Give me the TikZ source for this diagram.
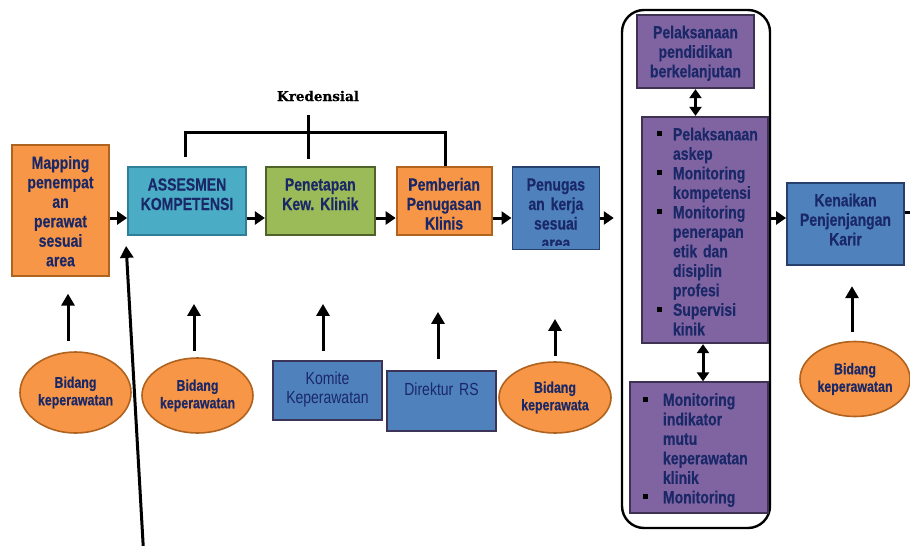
\documentclass[tikz,border=0pt]{standalone}
\usepackage{fontspec}
\setmainfont{Liberation Sans}[FakeStretch=0.8,WordSpace=0.75,BoldFeatures={FakeBold=0.4}]
\newfontfamily\kredfont{DejaVu Serif}[BoldFeatures={FakeBold=0.3}]
\usepackage{tikz}
\usetikzlibrary{arrows.meta,positioning,calc,shapes.geometric}
\frenchspacing
\definecolor{orfill}{HTML}{F79646}
\definecolor{orline}{HTML}{B0621F}
\definecolor{tealfill}{HTML}{4BACC6}
\definecolor{tealline}{HTML}{2F7F96}
\definecolor{grfill}{HTML}{9BBB59}
\definecolor{grline}{HTML}{4F6228}
\definecolor{blfill}{HTML}{4F81BD}
\definecolor{blline}{HTML}{27406B}
\definecolor{sbline}{HTML}{3C3358}
\definecolor{pufill}{HTML}{8064A2}
\definecolor{puline}{HTML}{3F3151}
\definecolor{navytext}{HTML}{1A2868}
\newcommand{\blt}{\textcolor{black}{\rule[3.8pt]{5pt}{5pt}}}

\begin{document}
\begin{tikzpicture}[x=1pt,y=-1pt,
  node distance=20pt,
  box/.style={draw,line width=1.8pt,align=center,inner xsep=0pt,inner ysep=0pt,text height=23.5pt,text=navytext,font=\bfseries\fontsize{17.5}{19.5}\selectfont},
  obox/.style={box,fill=orfill,draw=orline},
  tbox/.style={box,fill=tealfill,draw=tealline},
  gbox/.style={box,fill=grfill,draw=grline},
  bbox/.style={box,fill=blfill,draw=blline},
  pbox/.style={box,fill=pufill,draw=puline},
  sbox/.style={box,fill=blfill,draw=sbline,font=\fontsize{17.5}{19.5}\selectfont},
  bidang/.style={ellipse,draw=orline,fill=orfill,line width=1.6pt,inner sep=0pt,align=center,text=navytext,font=\bfseries\fontsize{15.5}{17.5}\selectfont},
  arr/.style={-{Triangle[length=10pt,width=13pt]},line width=3pt},
  uarr/.style={-{Triangle[length=12pt,width=13pt]},line width=3pt},
  darr/.style={{Triangle[length=9pt,width=12pt]}-{Triangle[length=9pt,width=12pt]},line width=3pt},
  brk/.style={line width=3pt}
]
\useasboundingbox (0,0) rectangle (910,546);
\clip (0,0) rectangle (910,546);

\node[obox,text width=97pt,text depth=107pt] (map) at (60.5,210.5) {Mapping\\penempat\\an\\perawat\\sesuai\\area};
\node[tbox,text width=118pt,text depth=44.5pt] (asesmen) at (187,201) {ASSESMEN\\KOMPETENSI};
\node[gbox,text width=109pt,text depth=44.5pt,right=18pt of asesmen] (penetapan) {Penetapan\\Kew. Klinik};
\node[obox,text width=95pt,text depth=44.5pt,right=20pt of penetapan] (pemberian) {Pemberian\\Penugasan\\Klinis};
\node[bbox,text width=87pt,text depth=59pt,right=19pt of pemberian.north east,anchor=north west] (kerja) {};
\begin{scope}
\clip ($(kerja.north west)+(1,1)$) rectangle ($(kerja.south east)+(-1,-4.5)$);
\node[box,draw=none,text width=87pt,text depth=59pt,anchor=north] (kerjatxt) at (kerja.north) {Penugas\\an kerja\\sesuai\\area};
\end{scope}

\node[draw,line width=2.4pt,rounded corners=22pt,minimum width=148pt,minimum height=518pt,inner sep=0pt] (frame) at (696,269) {};
\node[pbox,text width=117pt,text depth=50pt] (didik) at (695.5,51.5) {Pelaksanaan\\pendidikan\\berkelanjutan};
\node[pbox,text width=97pt,inner xsep=14.5pt,align=left,text depth=203pt] (monitor) at (705,230) {%
  \begin{tabular}[t]{@{}p{16.5pt}@{}l@{}}
  \blt & Pelaksanaan\\
       & askep\\
  \blt & Monitoring\\
       & kompetensi\\
  \blt & Monitoring\\
       & penerapan\\
       & etik dan\\
       & disiplin\\
       & profesi\\
  \blt & Supervisi\\
       & kinik
  \end{tabular}};
\node[pbox,text width=113pt,inner xsep=12.5pt,align=left,text depth=107pt] (mutu) at (699,447.5) {%
  \begin{tabular}[t]{@{}p{20.5pt}@{}l@{}}
  \blt & Monitoring\\
       & indikator\\
       & mutu\\
       & keperawatan\\
       & klinik\\
  \blt & Monitoring
  \end{tabular}};
\node[bbox,text width=117pt,text depth=59pt] (karir) at (845.5,224) {Kenaikan\\Penjenjangan\\Karir};

\node[sbox,text width=109pt,text depth=36pt] (komite) at (327.5,390.5) {Komite\\Keperawatan};
\node[sbox,text width=109pt,text height=24pt,text depth=36pt] (direktur) at (441.5,401) {Direktur RS};
\node[bidang,minimum width=111pt,minimum height=81pt] (bid1) at (75.5,392.5) {Bidang\\keperawatan};
\node[bidang,minimum width=111pt,minimum height=75pt] (bid2) at (197.5,395.5) {Bidang\\keperawatan};
\node[bidang,minimum width=112pt,minimum height=71pt] (bid3) at (555,397.5) {Bidang\\keperawata};
\node[bidang,minimum width=110pt,minimum height=75pt] (bid4) at (855,379) {Bidang\\keperawatan};

\node[font=\kredfont\bfseries\fontsize{13.5}{15}\selectfont] (kred) at (318,96) {Kredensial};
\draw[brk] ($(asesmen.north)+(-2,-9)$) |- ($(pemberian.north)+(1.5,-34)$) -- ($(pemberian.north)+(1.5,0)$);
\draw[brk] ($(penetapan.north)+(-11.5,-51)$) -- ($(penetapan.north)+(-11.5,-7)$);

\coordinate (lvl) at (0,218);
\draw[arr] (map.east |- lvl) -- (asesmen.west |- lvl);
\draw[arr] (asesmen.east |- lvl) -- (penetapan.west |- lvl);
\draw[arr] (penetapan.east |- lvl) -- (pemberian.west |- lvl);
\draw[arr] (pemberian.east |- lvl) -- (kerja.west |- lvl);
\draw[arr,shorten >=7pt] (kerja.east |- lvl) -- (frame.west |- lvl);
\draw[arr] (frame.east |- lvl) -- (karir.west |- lvl);
\draw[arr] ([yshift=12pt]karir.east) -- ++(16,0);

\draw[darr] (didik.south) -- (didik.south |- monitor.north);
\draw[darr] ([xshift=-2pt]monitor.south) -- ([xshift=-2pt]monitor.south |- mutu.north);

\draw[uarr,shorten <=10pt,shorten >=17pt] ([xshift=-7.5pt]bid1.north) -- ([xshift=-7.5pt]bid1.north |- map.south);
\draw[uarr,shorten <=6pt,shorten >=68pt] ([xshift=-3.5pt]bid2.north) -- ([xshift=-3.5pt]bid2.north |- asesmen.south);
\draw[uarr,shorten <=9pt,shorten >=68pt] ([xshift=-4.5pt]komite.north) -- ([xshift=-4.5pt]komite.north |- penetapan.south);
\draw[uarr,shorten <=11pt,shorten >=76pt] ([xshift=-3.5pt]direktur.north) -- ([xshift=-3.5pt]direktur.north |- pemberian.south);
\draw[uarr,shorten <=5pt,shorten >=68.5pt] (bid3.north) -- (bid3.north |- kerja.south);
\draw[uarr,shorten <=8.5pt,shorten >=20pt] ([xshift=-3pt]bid4.north) -- ([xshift=-3pt]bid4.north |- karir.south);

\coordinate (src) at (144,560);
\draw[uarr] (src) -- ($(asesmen.south west)+(-1,10)$);
\end{tikzpicture}
\end{document}
